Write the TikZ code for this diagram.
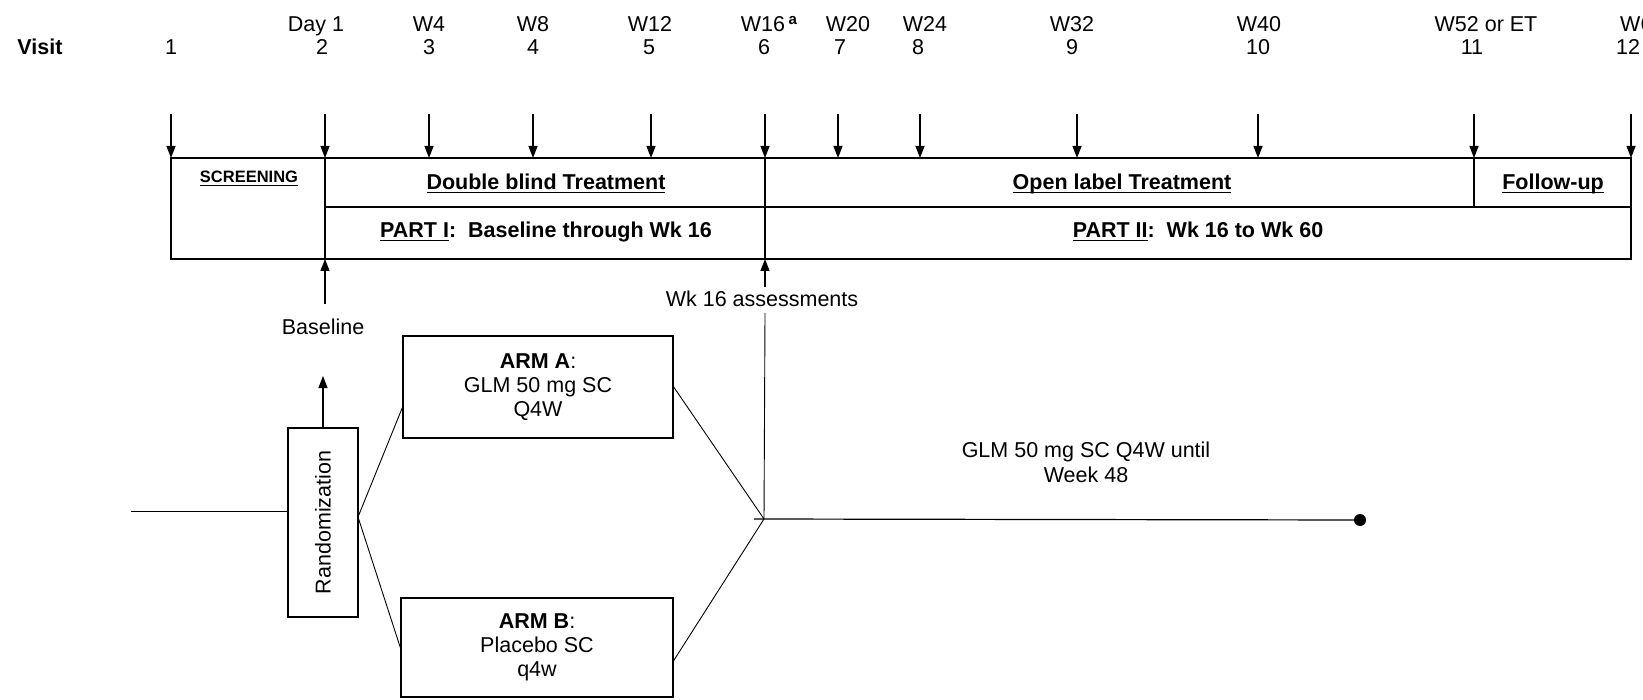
\documentclass[tikz,border=0pt]{standalone}
\usepackage{fontspec}
\setmainfont{Liberation Sans}
\usetikzlibrary{arrows.meta,calc}
\newcommand{\myul}[1]{\setbox0=\hbox{#1}\rlap{\rule[-3.5pt]{\wd0}{1.3pt}}\box0}
\begin{document}
\begin{tikzpicture}[x=1pt,y=-1pt,
  txt/.style={font=\fontsize{21.5}{25}\selectfont, inner sep=0pt, anchor=base},
  btxt/.style={txt, font=\fontsize{21.5}{25}\selectfont\bfseries},
  stxt/.style={txt, font=\fontsize{16.5}{20}\selectfont\bfseries},
  tick/.style={line width=1.3pt, -{Triangle[length=12pt,width=9pt]}},
  frame/.style={line width=1.4pt},
  thinl/.style={line width=0.9pt},
  box/.style={draw, line width=1.4pt, align=center, font=\fontsize{21.5}{24}\selectfont, inner sep=0pt}]
\useasboundingbox (0,0) rectangle (1643,700);
% header
\node[btxt] (visit) at (40,55) {Visit};
\foreach \x/\n [count=\i] in {171/1,322/2,429/3,533/4,649/5,764/6,840/7,918/8,1072/9,1258/10,1472/11,1628/12}
  \node[txt] (v\i) at (\x,55) {\n};
\node[txt] (w2) at (316,32) {Day 1};
\node[txt] (w3) at (429,32) {W4};
\node[txt] (w4) at (533,32) {W8};
\node[txt] (w5) at (650,32) {W12};
\node[txt] (w6) at (763,32) {W16\rlap{\,\textsuperscript{\textbf{a}}}};
\node[txt] (w7) at (848,32) {W20};
\node[txt] (w8) at (925,32) {W24};
\node[txt] (w9) at (1072,32) {W32};
\node[txt] (w10) at (1259,32) {W40};
\node[txt] (w11) at (1486,32) {W52 or ET};
\node[txt, anchor=base west] (w12) at (1620,32) {W60};
% ticks
\foreach \x [count=\i] in {171,325,429,533,651,765,838,920,1077,1258,1474,1631} {
  \coordinate (ta\i) at (\x,114);
  \coordinate (tb\i) at (\x,158);
  \draw[tick] (ta\i) -- (tb\i);
}
% frame
\draw[frame] (171,158) rectangle (1631,259);
\draw[frame] (325,207) -- (1631,207);
\draw[frame] (325,158) -- (325,259);
\draw[frame] (765,158) -- (765,259);
\draw[frame] (1474,158) -- (1474,207);
% frame labels
\node[stxt] (scr) at (249,183) {\myul{SCREENING}};
\node[btxt] (dbt) at (546,190) {\myul{Double blind Treatment}};
\node[btxt] (olt) at (1122,190) {\myul{Open label Treatment}};
\node[btxt] (fu) at (1553,190) {\myul{Follow-up}};
\node[btxt] (p1) at (546,238) {\myul{PART I}:\ \ Baseline through Wk 16};
\node[btxt] (p2) at (1198,238) {\myul{PART II}:\ \ Wk 16 to Wk 60};
% baseline
\node[txt] (base) at (323,335) {Baseline};
\coordinate (bs) at (325,304);
\coordinate (be) at (325,259);
\draw[tick] (bs) -- (be);
% wk16
\node[txt] (wk16) at (762,307) {Wk 16 assessments};
\coordinate (wa) at (765,287);
\coordinate (wb) at (765,259);
\draw[tick] (wa) -- (wb);
\coordinate (J) at (764,519);
\coordinate (wl) at (765,313);
\draw[thinl] (wl) -- (J);
% randomization
\node[box, minimum width=70pt, minimum height=189pt] (rand) at (323,522.5) {\rotatebox{90}{Randomization}};
\coordinate (rt) at (323,376);
\draw[tick] (rand.north) -- (rt);
\coordinate (lin) at (131,511);
\draw[thinl] (lin) -- (lin -| rand.west);
\coordinate (fan) at (358,517);
% arms
\node[box, minimum width=270pt, minimum height=102pt] (armA) at (538,387) {\textbf{ARM A}:\\GLM 50 mg SC\\Q4W};
\node[box, minimum width=272pt, minimum height=99pt] (armB) at (537,647.5) {\textbf{ARM B}:\\Placebo SC\\q4w};
\draw[thinl] (fan) -- ($(armA.south west)!0.3!(armA.north west)$);
\draw[thinl] (fan) -- (armB.west);
\draw[thinl] (armA.east) -- (J);
\draw[thinl] ($(armB.north east)!0.63!(armB.south east)$) -- (J);
% open label line
\node[circle, fill, inner sep=0pt, minimum size=12pt] (dot) at (1360,520) {};
\coordinate (Jl) at (754,519);
\draw[line width=1.2pt] (Jl) -- (dot.center);
\node[txt] (glm1) at (1086,457) {GLM 50 mg SC Q4W until};
\node[txt] (glm2) at (1086,482) {Week 48};
\end{tikzpicture}
\end{document}
